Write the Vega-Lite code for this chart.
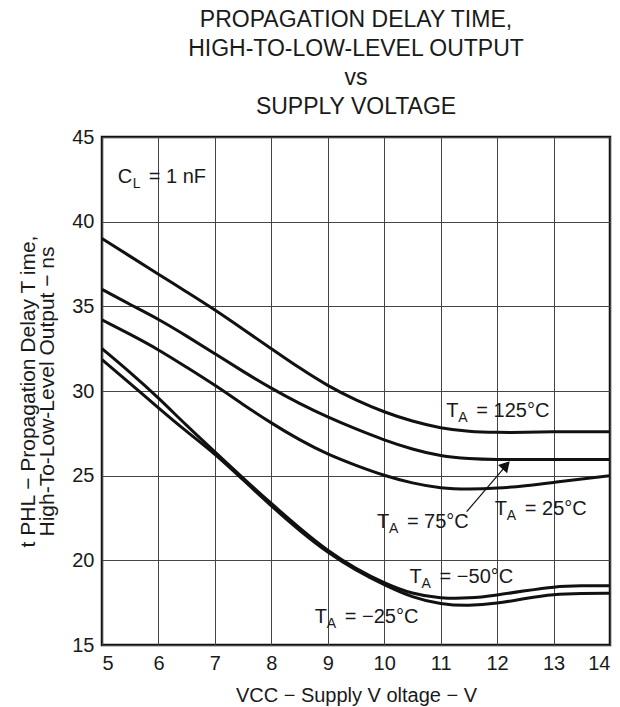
{
  "$schema": "https://vega.github.io/schema/vega-lite/v6.json",
  "width": 508,
  "height": 508,
  "autosize": {"type": "none"},
  "padding": {"left": 102, "top": 137, "right": 10, "bottom": 62},
  "background": "white",
  "config": {
    "font": "Liberation Sans",
    "view": {"stroke": "#111", "strokeWidth": 2.5},
    "axis": {
      "grid": true,
      "gridColor": "#444",
      "gridWidth": 1,
      "gridOpacity": 1,
      "ticks": false,
      "domain": false,
      "labelFontSize": 20,
      "labelColor": "#1a1a1a",
      "labelPadding": 8,
      "titleFontSize": 20,
      "titleFontWeight": "normal",
      "titleColor": "#1a1a1a"
    }
  },
  "title": {
    "text": ["PROPAGATION DELAY TIME,", "HIGH-TO-LOW-LEVEL OUTPUT", "vs", "SUPPLY VOLTAGE"],
    "fontSize": 23,
    "fontWeight": "normal",
    "lineHeight": 29,
    "anchor": "middle",
    "frame": "group",
    "offset": 8,
    "color": "#1a1a1a"
  },
  "datasets": {
    "curves": [
      {"series": "125", "vcc": 5, "t": 39.0}, {"series": "125", "vcc": 5.5, "t": 37.95}, {"series": "125", "vcc": 6, "t": 36.9}, {"series": "125", "vcc": 6.5, "t": 35.85}, {"series": "125", "vcc": 7, "t": 34.8}, {"series": "125", "vcc": 7.5, "t": 33.65}, {"series": "125", "vcc": 8, "t": 32.5}, {"series": "125", "vcc": 8.5, "t": 31.35}, {"series": "125", "vcc": 9, "t": 30.3}, {"series": "125", "vcc": 9.5, "t": 29.45}, {"series": "125", "vcc": 10, "t": 28.75}, {"series": "125", "vcc": 10.5, "t": 28.2}, {"series": "125", "vcc": 11, "t": 27.8}, {"series": "125", "vcc": 11.5, "t": 27.6}, {"series": "125", "vcc": 12, "t": 27.55}, {"series": "125", "vcc": 12.5, "t": 27.55}, {"series": "125", "vcc": 13, "t": 27.6}, {"series": "125", "vcc": 13.5, "t": 27.6}, {"series": "125", "vcc": 14, "t": 27.6},
      {"series": "75", "vcc": 5, "t": 36.0}, {"series": "75", "vcc": 5.5, "t": 35.1}, {"series": "75", "vcc": 6, "t": 34.25}, {"series": "75", "vcc": 6.5, "t": 33.25}, {"series": "75", "vcc": 7, "t": 32.2}, {"series": "75", "vcc": 7.5, "t": 31.15}, {"series": "75", "vcc": 8, "t": 30.15}, {"series": "75", "vcc": 8.5, "t": 29.25}, {"series": "75", "vcc": 9, "t": 28.45}, {"series": "75", "vcc": 9.5, "t": 27.75}, {"series": "75", "vcc": 10, "t": 27.1}, {"series": "75", "vcc": 10.5, "t": 26.55}, {"series": "75", "vcc": 11, "t": 26.15}, {"series": "75", "vcc": 11.5, "t": 26.0}, {"series": "75", "vcc": 12, "t": 25.95}, {"series": "75", "vcc": 12.5, "t": 25.95}, {"series": "75", "vcc": 13, "t": 25.95}, {"series": "75", "vcc": 13.5, "t": 25.95}, {"series": "75", "vcc": 14, "t": 25.95},
      {"series": "25", "vcc": 5, "t": 34.2}, {"series": "25", "vcc": 5.5, "t": 33.35}, {"series": "25", "vcc": 6, "t": 32.45}, {"series": "25", "vcc": 6.5, "t": 31.4}, {"series": "25", "vcc": 7, "t": 30.35}, {"series": "25", "vcc": 7.5, "t": 29.2}, {"series": "25", "vcc": 8, "t": 28.1}, {"series": "25", "vcc": 8.5, "t": 27.1}, {"series": "25", "vcc": 9, "t": 26.25}, {"series": "25", "vcc": 9.5, "t": 25.6}, {"series": "25", "vcc": 10, "t": 25.0}, {"series": "25", "vcc": 10.5, "t": 24.55}, {"series": "25", "vcc": 11, "t": 24.25}, {"series": "25", "vcc": 11.5, "t": 24.2}, {"series": "25", "vcc": 12, "t": 24.25}, {"series": "25", "vcc": 12.5, "t": 24.4}, {"series": "25", "vcc": 13, "t": 24.6}, {"series": "25", "vcc": 13.5, "t": 24.8}, {"series": "25", "vcc": 14, "t": 25.0},
      {"series": "-50", "vcc": 5, "t": 32.5}, {"series": "-50", "vcc": 5.5, "t": 31.1}, {"series": "-50", "vcc": 6, "t": 29.6}, {"series": "-50", "vcc": 6.5, "t": 27.95}, {"series": "-50", "vcc": 7, "t": 26.4}, {"series": "-50", "vcc": 7.5, "t": 24.85}, {"series": "-50", "vcc": 8, "t": 23.35}, {"series": "-50", "vcc": 8.5, "t": 21.9}, {"series": "-50", "vcc": 9, "t": 20.55}, {"series": "-50", "vcc": 9.5, "t": 19.5}, {"series": "-50", "vcc": 10, "t": 18.65}, {"series": "-50", "vcc": 10.5, "t": 18.0}, {"series": "-50", "vcc": 11, "t": 17.75}, {"series": "-50", "vcc": 11.5, "t": 17.75}, {"series": "-50", "vcc": 12, "t": 17.95}, {"series": "-50", "vcc": 12.5, "t": 18.2}, {"series": "-50", "vcc": 13, "t": 18.45}, {"series": "-50", "vcc": 13.5, "t": 18.5}, {"series": "-50", "vcc": 14, "t": 18.5},
      {"series": "-25", "vcc": 5, "t": 31.85}, {"series": "-25", "vcc": 5.5, "t": 30.45}, {"series": "-25", "vcc": 6, "t": 29.0}, {"series": "-25", "vcc": 6.5, "t": 27.6}, {"series": "-25", "vcc": 7, "t": 26.3}, {"series": "-25", "vcc": 7.5, "t": 24.75}, {"series": "-25", "vcc": 8, "t": 23.2}, {"series": "-25", "vcc": 8.5, "t": 21.75}, {"series": "-25", "vcc": 9, "t": 20.45}, {"series": "-25", "vcc": 9.5, "t": 19.4}, {"series": "-25", "vcc": 10, "t": 18.55}, {"series": "-25", "vcc": 10.5, "t": 17.8}, {"series": "-25", "vcc": 11, "t": 17.4}, {"series": "-25", "vcc": 11.5, "t": 17.3}, {"series": "-25", "vcc": 12, "t": 17.45}, {"series": "-25", "vcc": 12.5, "t": 17.75}, {"series": "-25", "vcc": 13, "t": 18.0}, {"series": "-25", "vcc": 13.5, "t": 18.05}, {"series": "-25", "vcc": 14, "t": 18.05}
    ],
    "tlabels": [
      {"vcc": 11.1, "t": 28.46, "main": "T", "sub": "A", "rest": "= 125°C"},
      {"vcc": 11.96, "t": 22.67, "main": "T", "sub": "A", "rest": "= 25°C"},
      {"vcc": 9.87, "t": 21.9, "main": "T", "sub": "A", "rest": "= 75°C"},
      {"vcc": 10.45, "t": 18.64, "main": "T", "sub": "A", "rest": "= −50°C"},
      {"vcc": 8.77, "t": 16.28, "main": "T", "sub": "A", "rest": "= −25°C"}
    ],
    "clabel": [
      {"vcc": 5.28, "t": 42.28, "main": "C", "sub": "L", "rest": "= 1 nF"}
    ],
    "arrow": [
      {"vcc": 11.46, "t": 22.87, "vcc2": 12.2, "t2": 25.75}
    ],
    "arrowhead": [
      {"vcc": 12.16, "t": 25.62}
    ]
  },
  "encoding": {
    "x": {
      "field": "vcc", "type": "quantitative",
      "scale": {"domain": [5, 14], "nice": false, "zero": false},
      "axis": {"values": [5, 6, 7, 8, 9, 10, 11, 12, 13, 14], "title": "VCC − Supply V oltage − V", "titlePadding": 12}
    },
    "y": {
      "field": "t", "type": "quantitative",
      "scale": {"domain": [15, 45], "nice": false, "zero": false},
      "axis": {"values": [15, 20, 25, 30, 35, 40, 45], "title": ["t PHL − Propagation Delay T ime,", "High-To-Low-Level Output − ns"], "titleFontSize": 21, "titlePadding": 14, "titleLineHeight": 19}
    }
  },
  "layer": [
    {
      "data": {"name": "curves"},
      "mark": {"type": "line", "color": "#111", "strokeWidth": 3, "interpolate": "basis"},
      "encoding": {"detail": {"field": "series", "type": "nominal"}}
    },
    {
      "data": {"name": "arrow"},
      "mark": {"type": "rule", "color": "#111", "strokeWidth": 1.2},
      "encoding": {"x2": {"field": "vcc2"}, "y2": {"field": "t2"}}
    },
    {
      "data": {"name": "arrowhead"},
      "mark": {"type": "point", "shape": "triangle-up", "filled": true, "color": "#111", "opacity": 1, "size": 150, "angle": 42}
    },
    {
      "data": {"name": "tlabels"},
      "mark": {"type": "text", "align": "left", "baseline": "alphabetic", "fontSize": 20, "color": "#1a1a1a"},
      "encoding": {"text": {"field": "main"}}
    },
    {
      "data": {"name": "tlabels"},
      "mark": {"type": "text", "align": "left", "baseline": "alphabetic", "fontSize": 14, "dx": 12, "dy": 5, "color": "#1a1a1a"},
      "encoding": {"text": {"field": "sub"}}
    },
    {
      "data": {"name": "tlabels"},
      "mark": {"type": "text", "align": "left", "baseline": "alphabetic", "fontSize": 20, "dx": 30, "color": "#1a1a1a"},
      "encoding": {"text": {"field": "rest"}}
    },
    {
      "data": {"name": "clabel"},
      "mark": {"type": "text", "align": "left", "baseline": "alphabetic", "fontSize": 20, "color": "#1a1a1a"},
      "encoding": {"text": {"field": "main"}}
    },
    {
      "data": {"name": "clabel"},
      "mark": {"type": "text", "align": "left", "baseline": "alphabetic", "fontSize": 14, "dx": 15, "dy": 5, "color": "#1a1a1a"},
      "encoding": {"text": {"field": "sub"}}
    },
    {
      "data": {"name": "clabel"},
      "mark": {"type": "text", "align": "left", "baseline": "alphabetic", "fontSize": 20, "dx": 31, "color": "#1a1a1a"},
      "encoding": {"text": {"field": "rest"}}
    }
  ]
}
